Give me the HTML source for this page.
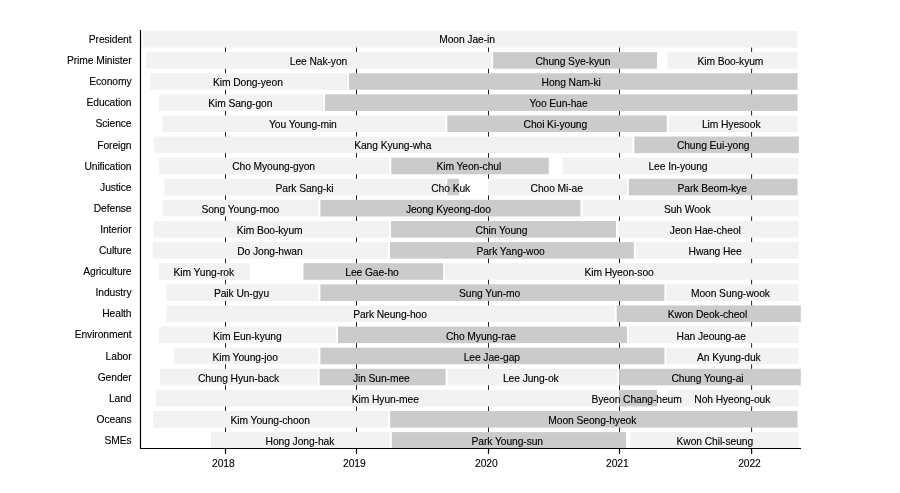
<!DOCTYPE html><html><head><meta charset="utf-8"><style>html,body{margin:0;padding:0;background:#fff;}svg{display:block;will-change:transform;}text{font-family:"Liberation Sans",sans-serif;letter-spacing:-0.09px;stroke:#000;stroke-width:0.12px;}</style></head><body>
<svg width="900" height="493" viewBox="0 0 900 493">
<rect x="0" y="0" width="900" height="493" fill="#fff"/>
<line x1="225.5" y1="31" x2="225.5" y2="448" stroke="#222" stroke-width="1"/>
<line x1="356.5" y1="31" x2="356.5" y2="448" stroke="#222" stroke-width="1"/>
<line x1="488.5" y1="31" x2="488.5" y2="448" stroke="#222" stroke-width="1"/>
<line x1="619.5" y1="31" x2="619.5" y2="448" stroke="#222" stroke-width="1"/>
<line x1="751.6" y1="31" x2="751.6" y2="448" stroke="#222" stroke-width="1"/>
<rect x="143.2" y="31.00" width="654.4" height="16.6" fill="#f2f2f2"/>
<rect x="146.1" y="52.11" width="344.9" height="16.6" fill="#f2f2f2"/>
<rect x="493.2" y="52.11" width="163.8" height="16.6" fill="#cbcbcb"/>
<rect x="667.3" y="52.11" width="130.3" height="16.6" fill="#f2f2f2"/>
<rect x="150.3" y="73.22" width="196.7" height="16.6" fill="#f2f2f2"/>
<rect x="349.0" y="73.22" width="448.6" height="16.6" fill="#cbcbcb"/>
<rect x="159.0" y="94.33" width="164.0" height="16.6" fill="#f2f2f2"/>
<rect x="325.0" y="94.33" width="472.6" height="16.6" fill="#cbcbcb"/>
<rect x="162.5" y="115.44" width="282.8" height="16.6" fill="#f2f2f2"/>
<rect x="447.3" y="115.44" width="219.5" height="16.6" fill="#cbcbcb"/>
<rect x="668.8" y="115.44" width="128.8" height="16.6" fill="#f2f2f2"/>
<rect x="154.2" y="136.55" width="478.1" height="16.6" fill="#f2f2f2"/>
<rect x="634.3" y="136.55" width="164.5" height="16.6" fill="#cbcbcb"/>
<rect x="159.0" y="157.66" width="230.3" height="16.6" fill="#f2f2f2"/>
<rect x="391.3" y="157.66" width="157.5" height="16.6" fill="#cbcbcb"/>
<rect x="562.5" y="157.66" width="236.1" height="16.6" fill="#f2f2f2"/>
<rect x="164.4" y="178.77" width="280.9" height="16.6" fill="#f2f2f2"/>
<rect x="447.3" y="178.77" width="11.7" height="16.6" fill="#cbcbcb"/>
<rect x="488.0" y="178.77" width="138.9" height="16.6" fill="#f2f2f2"/>
<rect x="628.9" y="178.77" width="168.7" height="16.6" fill="#cbcbcb"/>
<rect x="162.5" y="199.88" width="155.9" height="16.6" fill="#f2f2f2"/>
<rect x="320.4" y="199.88" width="260.1" height="16.6" fill="#cbcbcb"/>
<rect x="582.5" y="199.88" width="216.1" height="16.6" fill="#f2f2f2"/>
<rect x="153.4" y="220.99" width="235.6" height="16.6" fill="#f2f2f2"/>
<rect x="391.0" y="220.99" width="225.0" height="16.6" fill="#cbcbcb"/>
<rect x="618.0" y="220.99" width="180.6" height="16.6" fill="#f2f2f2"/>
<rect x="152.7" y="242.10" width="235.3" height="16.6" fill="#f2f2f2"/>
<rect x="390.0" y="242.10" width="243.8" height="16.6" fill="#cbcbcb"/>
<rect x="635.8" y="242.10" width="162.8" height="16.6" fill="#f2f2f2"/>
<rect x="159.0" y="263.21" width="91.0" height="16.6" fill="#f2f2f2"/>
<rect x="303.5" y="263.21" width="139.6" height="16.6" fill="#cbcbcb"/>
<rect x="445.1" y="263.21" width="353.5" height="16.6" fill="#f2f2f2"/>
<rect x="166.4" y="284.32" width="152.0" height="16.6" fill="#f2f2f2"/>
<rect x="320.4" y="284.32" width="344.0" height="16.6" fill="#cbcbcb"/>
<rect x="666.4" y="284.32" width="132.2" height="16.6" fill="#f2f2f2"/>
<rect x="166.4" y="305.43" width="448.3" height="16.6" fill="#f2f2f2"/>
<rect x="616.7" y="305.43" width="184.1" height="16.6" fill="#cbcbcb"/>
<rect x="159.0" y="326.54" width="177.0" height="16.6" fill="#f2f2f2"/>
<rect x="338.0" y="326.54" width="289.0" height="16.6" fill="#cbcbcb"/>
<rect x="629.0" y="326.54" width="169.6" height="16.6" fill="#f2f2f2"/>
<rect x="174.2" y="347.65" width="144.2" height="16.6" fill="#f2f2f2"/>
<rect x="320.4" y="347.65" width="344.0" height="16.6" fill="#cbcbcb"/>
<rect x="666.4" y="347.65" width="132.2" height="16.6" fill="#f2f2f2"/>
<rect x="160.0" y="368.76" width="157.7" height="16.6" fill="#f2f2f2"/>
<rect x="319.7" y="368.76" width="125.9" height="16.6" fill="#cbcbcb"/>
<rect x="447.6" y="368.76" width="169.5" height="16.6" fill="#f2f2f2"/>
<rect x="619.1" y="368.76" width="181.7" height="16.6" fill="#cbcbcb"/>
<rect x="155.9" y="389.87" width="461.2" height="16.6" fill="#f2f2f2"/>
<rect x="619.1" y="389.87" width="37.9" height="16.6" fill="#cbcbcb"/>
<rect x="667.3" y="389.87" width="131.3" height="16.6" fill="#f2f2f2"/>
<rect x="152.9" y="410.98" width="235.2" height="16.6" fill="#f2f2f2"/>
<rect x="390.1" y="410.98" width="407.5" height="16.6" fill="#cbcbcb"/>
<rect x="210.9" y="432.09" width="178.9" height="16.6" fill="#f2f2f2"/>
<rect x="391.8" y="432.09" width="234.2" height="16.6" fill="#cbcbcb"/>
<rect x="630.5" y="432.09" width="168.1" height="16.6" fill="#f2f2f2"/>
<text x="131.5" y="42.95" font-size="10.3" text-anchor="end" fill="#000">President</text>
<text x="467.0" y="43.00" font-size="10.3" text-anchor="middle" fill="#000">Moon Jae-in</text>
<text x="131.5" y="64.06" font-size="10.3" text-anchor="end" fill="#000">Prime Minister</text>
<text x="318.5" y="64.83" font-size="10.3" text-anchor="middle" fill="#000">Lee Nak-yon</text>
<text x="572.9" y="64.83" font-size="10.3" text-anchor="middle" fill="#000">Chung Sye-kyun</text>
<text x="730.4" y="64.83" font-size="10.3" text-anchor="middle" fill="#000">Kim Boo-kyum</text>
<text x="131.5" y="85.17" font-size="10.3" text-anchor="end" fill="#000">Economy</text>
<text x="247.9" y="85.96" font-size="10.3" text-anchor="middle" fill="#000">Kim Dong-yeon</text>
<text x="571.1" y="85.96" font-size="10.3" text-anchor="middle" fill="#000">Hong Nam-ki</text>
<text x="131.5" y="106.28" font-size="10.3" text-anchor="end" fill="#000">Education</text>
<text x="240.3" y="107.09" font-size="10.3" text-anchor="middle" fill="#000">Kim Sang-gon</text>
<text x="558.5" y="107.09" font-size="10.3" text-anchor="middle" fill="#000">Yoo Eun-hae</text>
<text x="131.5" y="127.39" font-size="10.3" text-anchor="end" fill="#000">Science</text>
<text x="302.9" y="128.22" font-size="10.3" text-anchor="middle" fill="#000">You Young-min</text>
<text x="555.3" y="128.22" font-size="10.3" text-anchor="middle" fill="#000">Choi Ki-young</text>
<text x="731.2" y="128.22" font-size="10.3" text-anchor="middle" fill="#000">Lim Hyesook</text>
<text x="131.5" y="148.50" font-size="10.3" text-anchor="end" fill="#000">Foreign</text>
<text x="392.8" y="149.35" font-size="10.3" text-anchor="middle" fill="#000">Kang Kyung-wha</text>
<text x="713.2" y="149.35" font-size="10.3" text-anchor="middle" fill="#000">Chung Eui-yong</text>
<text x="131.5" y="169.61" font-size="10.3" text-anchor="end" fill="#000">Unification</text>
<text x="273.6" y="170.48" font-size="10.3" text-anchor="middle" fill="#000">Cho Myoung-gyon</text>
<text x="468.8" y="170.48" font-size="10.3" text-anchor="middle" fill="#000">Kim Yeon-chul</text>
<text x="678.0" y="170.48" font-size="10.3" text-anchor="middle" fill="#000">Lee In-young</text>
<text x="131.5" y="190.72" font-size="10.3" text-anchor="end" fill="#000">Justice</text>
<text x="304.5" y="191.61" font-size="10.3" text-anchor="middle" fill="#000">Park Sang-ki</text>
<text x="450.7" y="191.61" font-size="10.3" text-anchor="middle" fill="#000">Cho Kuk</text>
<text x="556.7" y="191.61" font-size="10.3" text-anchor="middle" fill="#000">Choo Mi-ae</text>
<text x="712.2" y="191.61" font-size="10.3" text-anchor="middle" fill="#000">Park Beom-kye</text>
<text x="131.5" y="211.83" font-size="10.3" text-anchor="end" fill="#000">Defense</text>
<text x="240.3" y="212.74" font-size="10.3" text-anchor="middle" fill="#000">Song Young-moo</text>
<text x="448.4" y="212.74" font-size="10.3" text-anchor="middle" fill="#000">Jeong Kyeong-doo</text>
<text x="687.2" y="212.74" font-size="10.3" text-anchor="middle" fill="#000">Suh Wook</text>
<text x="131.5" y="232.94" font-size="10.3" text-anchor="end" fill="#000">Interior</text>
<text x="269.6" y="233.87" font-size="10.3" text-anchor="middle" fill="#000">Kim Boo-kyum</text>
<text x="501.5" y="233.87" font-size="10.3" text-anchor="middle" fill="#000">Chin Young</text>
<text x="705.3" y="233.87" font-size="10.3" text-anchor="middle" fill="#000">Jeon Hae-cheol</text>
<text x="131.5" y="254.05" font-size="10.3" text-anchor="end" fill="#000">Culture</text>
<text x="269.9" y="255.00" font-size="10.3" text-anchor="middle" fill="#000">Do Jong-hwan</text>
<text x="510.6" y="255.00" font-size="10.3" text-anchor="middle" fill="#000">Park Yang-woo</text>
<text x="715.1" y="255.00" font-size="10.3" text-anchor="middle" fill="#000">Hwang Hee</text>
<text x="131.5" y="275.16" font-size="10.3" text-anchor="end" fill="#000">Agriculture</text>
<text x="203.8" y="276.13" font-size="10.3" text-anchor="middle" fill="#000">Kim Yung-rok</text>
<text x="372.0" y="276.13" font-size="10.3" text-anchor="middle" fill="#000">Lee Gae-ho</text>
<text x="619.1" y="276.13" font-size="10.3" text-anchor="middle" fill="#000">Kim Hyeon-soo</text>
<text x="131.5" y="296.27" font-size="10.3" text-anchor="end" fill="#000">Industry</text>
<text x="241.5" y="297.26" font-size="10.3" text-anchor="middle" fill="#000">Paik Un-gyu</text>
<text x="489.6" y="297.26" font-size="10.3" text-anchor="middle" fill="#000">Sung Yun-mo</text>
<text x="730.4" y="297.26" font-size="10.3" text-anchor="middle" fill="#000">Moon Sung-wook</text>
<text x="131.5" y="317.38" font-size="10.3" text-anchor="end" fill="#000">Health</text>
<text x="390.0" y="318.39" font-size="10.3" text-anchor="middle" fill="#000">Park Neung-hoo</text>
<text x="707.5" y="318.39" font-size="10.3" text-anchor="middle" fill="#000">Kwon Deok-cheol</text>
<text x="131.5" y="338.49" font-size="10.3" text-anchor="end" fill="#000">Environment</text>
<text x="247.3" y="339.52" font-size="10.3" text-anchor="middle" fill="#000">Kim Eun-kyung</text>
<text x="480.9" y="339.52" font-size="10.3" text-anchor="middle" fill="#000">Cho Myung-rae</text>
<text x="711.2" y="339.52" font-size="10.3" text-anchor="middle" fill="#000">Han Jeoung-ae</text>
<text x="131.5" y="359.60" font-size="10.3" text-anchor="end" fill="#000">Labor</text>
<text x="245.2" y="360.65" font-size="10.3" text-anchor="middle" fill="#000">Kim Young-joo</text>
<text x="491.8" y="360.65" font-size="10.3" text-anchor="middle" fill="#000">Lee Jae-gap</text>
<text x="728.8" y="360.65" font-size="10.3" text-anchor="middle" fill="#000">An Kyung-duk</text>
<text x="131.5" y="380.71" font-size="10.3" text-anchor="end" fill="#000">Gender</text>
<text x="238.5" y="381.78" font-size="10.3" text-anchor="middle" fill="#000">Chung Hyun-back</text>
<text x="381.3" y="381.78" font-size="10.3" text-anchor="middle" fill="#000">Jin Sun-mee</text>
<text x="530.8" y="381.78" font-size="10.3" text-anchor="middle" fill="#000">Lee Jung-ok</text>
<text x="707.5" y="381.78" font-size="10.3" text-anchor="middle" fill="#000">Chung Young-ai</text>
<text x="131.5" y="401.82" font-size="10.3" text-anchor="end" fill="#000">Land</text>
<text x="385.3" y="402.91" font-size="10.3" text-anchor="middle" fill="#000">Kim Hyun-mee</text>
<text x="636.6" y="402.91" font-size="10.3" text-anchor="middle" fill="#000">Byeon Chang-heum</text>
<text x="732.3" y="402.91" font-size="10.3" text-anchor="middle" fill="#000">Noh Hyeong-ouk</text>
<text x="131.5" y="422.93" font-size="10.3" text-anchor="end" fill="#000">Oceans</text>
<text x="270.2" y="424.04" font-size="10.3" text-anchor="middle" fill="#000">Kim Young-choon</text>
<text x="592.3" y="424.04" font-size="10.3" text-anchor="middle" fill="#000">Moon Seong-hyeok</text>
<text x="131.5" y="444.04" font-size="10.3" text-anchor="end" fill="#000">SMEs</text>
<text x="299.9" y="445.17" font-size="10.3" text-anchor="middle" fill="#000">Hong Jong-hak</text>
<text x="507.3" y="445.17" font-size="10.3" text-anchor="middle" fill="#000">Park Young-sun</text>
<text x="714.8" y="445.17" font-size="10.3" text-anchor="middle" fill="#000">Kwon Chil-seung</text>
<line x1="140.5" y1="30" x2="140.5" y2="448.5" stroke="#000" stroke-width="1.2"/>
<line x1="140" y1="448.5" x2="801" y2="448.5" stroke="#000" stroke-width="1.2"/>
<line x1="225.5" y1="448" x2="225.5" y2="454" stroke="#000" stroke-width="1.2"/>
<text x="223.3" y="467" font-size="10.3" text-anchor="middle" fill="#000">2018</text>
<line x1="356.5" y1="448" x2="356.5" y2="454" stroke="#000" stroke-width="1.2"/>
<text x="354.3" y="467" font-size="10.3" text-anchor="middle" fill="#000">2019</text>
<line x1="488.5" y1="448" x2="488.5" y2="454" stroke="#000" stroke-width="1.2"/>
<text x="486.3" y="467" font-size="10.3" text-anchor="middle" fill="#000">2020</text>
<line x1="619.5" y1="448" x2="619.5" y2="454" stroke="#000" stroke-width="1.2"/>
<text x="617.3" y="467" font-size="10.3" text-anchor="middle" fill="#000">2021</text>
<line x1="751.6" y1="448" x2="751.6" y2="454" stroke="#000" stroke-width="1.2"/>
<text x="749.4" y="467" font-size="10.3" text-anchor="middle" fill="#000">2022</text>
</svg></body></html>
